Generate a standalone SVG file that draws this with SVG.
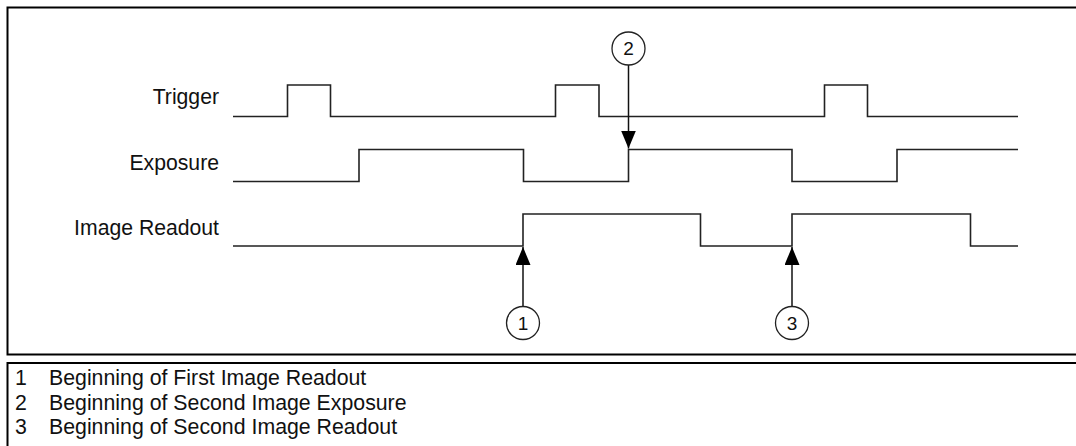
<svg xmlns="http://www.w3.org/2000/svg" width="1076" height="446" viewBox="0 0 1076 446">
  <style>
    .frame { fill: none; stroke: #000; stroke-width: 2; }
    .sig { fill: none; stroke: #222; stroke-width: 1.6; }
    .lbl { font-family: "Liberation Sans", Arial, sans-serif; font-size: 21.2px; fill: #111; }
    .callout circle { fill: #fff; stroke: #222; stroke-width: 1.3; }
    .callout text { font-family: "Liberation Sans", Arial, sans-serif; font-size: 19px; fill: #111; text-anchor: middle; }
    .lead { stroke: #111; stroke-width: 1.5; fill: none; }
    .key { font-family: "Liberation Sans", Arial, sans-serif; font-size: 21.3px; fill: #111; }
  </style>
  <defs>
    <marker id="head" viewBox="0 0 18 15" refX="18" refY="7.5" markerWidth="18" markerHeight="15" markerUnits="userSpaceOnUse" orient="auto">
      <path d="M0,0 L18,7.5 L0,15 Z" fill="#000"/>
    </marker>
  </defs>

  <rect width="1076" height="446" fill="#fff"/>

  <!-- diagram frame and key frame -->
  <path class="frame" d="M1080,7.5 H7.5 V354.5 H1080"/>
  <path class="frame" d="M1080,363 H7.5 V450"/>

  <!-- signal names -->
  <g id="label-trigger"><text class="lbl" x="219" y="104" text-anchor="end">Trigger</text></g>
  <g id="label-exposure"><text class="lbl" x="219" y="170" text-anchor="end">Exposure</text></g>
  <g id="label-readout"><text class="lbl" x="219" y="235" text-anchor="end">Image Readout</text></g>

  <!-- waveforms -->
  <g id="trigger">
    <path class="sig" d="M233,116.5 H287.5 V85 H330.5 V116.5 H555.5 V85 H599 V116.5 H824.5 V85 H867.5 V116.5 H1018"/>
  </g>
  <g id="exposure">
    <path class="sig" d="M233,181.5 H359 V149.5 H523.5 V181.5 H628.5 V149.5 H792 V181.5 H897 V149.5 H1018"/>
  </g>
  <g id="readout">
    <path class="sig" d="M233,246 H523 V214 H700.5 V246 H792 V214 H970.5 V246 H1018"/>
  </g>

  <!-- callout leaders -->
  <g id="connectors">
    <line class="lead" x1="628.5" y1="64.5" x2="628.5" y2="148.5" marker-end="url(#head)"/>
    <line class="lead" x1="523" y1="307" x2="523" y2="247" marker-end="url(#head)"/>
    <line class="lead" x1="792" y1="307" x2="792" y2="247" marker-end="url(#head)"/>
  </g>

  <!-- numbered callouts -->
  <g id="callout-2" class="callout">
    <circle cx="628.5" cy="48.5" r="16.5"/>
    <text x="628.5" y="55">2</text>
  </g>
  <g id="callout-1" class="callout">
    <circle cx="523" cy="323" r="16.5"/>
    <text x="523" y="329.5">1</text>
  </g>
  <g id="callout-3" class="callout">
    <circle cx="792" cy="323" r="16.5"/>
    <text x="792" y="329.5">3</text>
  </g>

  <!-- key -->
  <g id="key">
    <text class="key" x="15" y="385">1</text>
    <text class="key" x="49" y="385">Beginning of First Image Readout</text>
    <text class="key" x="15" y="410">2</text>
    <text class="key" x="49" y="410">Beginning of Second Image Exposure</text>
    <text class="key" x="15" y="434">3</text>
    <text class="key" x="49" y="434">Beginning of Second Image Readout</text>
  </g>
</svg>
